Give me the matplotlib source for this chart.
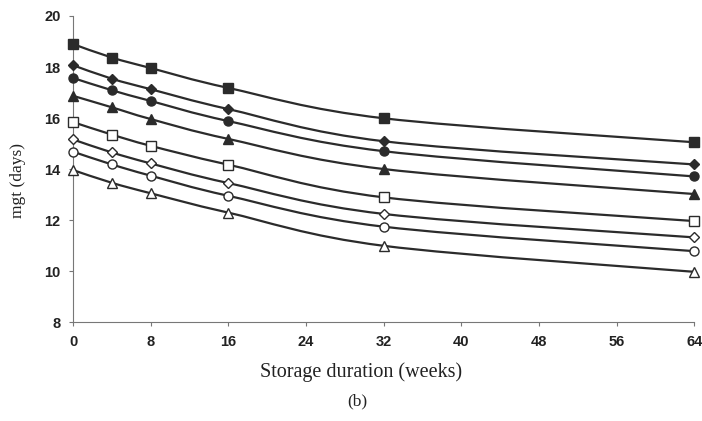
import numpy as np
import matplotlib
matplotlib.use("Agg")
import matplotlib.pyplot as plt
from matplotlib.path import Path
from matplotlib.patches import PathPatch

# storage duration (weeks) and mgt (days) for each series
weeks = [0, 4, 8, 16, 32, 64]
filled_square = [18.9, 18.37, 17.96, 17.18, 15.99, 15.05]
filled_diamond = [18.07, 17.54, 17.13, 16.35, 15.09, 14.18]
filled_circle = [17.57, 17.09, 16.67, 15.88, 14.7, 13.71]
filled_triangle = [16.87, 16.42, 15.96, 15.18, 14.0, 13.02]
open_square = [15.84, 15.35, 14.91, 14.17, 12.89, 11.96]
open_diamond = [15.16, 14.65, 14.22, 13.45, 12.24, 11.32]
open_circle = [14.68, 14.18, 13.74, 12.95, 11.74, 10.78]
open_triangle = [13.96, 13.46, 13.05, 12.29, 10.99, 9.97]

xticks = [0, 8, 16, 24, 32, 40, 48, 56, 64]
yticks = [8, 10, 12, 14, 16, 18, 20]

series = [
    (filled_square, 's', True),
    (filled_diamond, 'D', True),
    (filled_circle, 'o', True),
    (filled_triangle, '^', True),
    (open_square, 's', False),
    (open_diamond, 'D', False),
    (open_circle, 'o', False),
    (open_triangle, '^', False),
]

line_col = '#2b2b2b'
text_col = '#222222'


def smooth_path(x, y):
    # Excel-like smoothed line: cubic Bezier through every point
    p = np.column_stack([x, y]).astype(float)
    ext = np.vstack([p[0], p, p[-1]])
    verts = [p[0]]
    codes = [Path.MOVETO]
    for i in range(len(p) - 1):
        c1 = ext[i + 1] + (ext[i + 2] - ext[i]) / 6
        c2 = ext[i + 2] - (ext[i + 3] - ext[i + 1]) / 6
        verts += [c1, c2, p[i + 1]]
        codes += [Path.CURVE4] * 3
    return Path(verts, codes)


fig = plt.figure(figsize=(7.02, 4.21), dpi=100)
ax = fig.add_axes([0.104, 0.235, 0.885, 0.727])

for vals, m, filled in series:
    ax.add_patch(PathPatch(smooth_path(weeks, vals), fill=False,
                           edgecolor=line_col, lw=1.6, zorder=2))
    size = 5 if m == 'D' else 6.5
    ax.plot(weeks, vals, linestyle='none', marker=m, markersize=size,
            markerfacecolor=line_col if filled else 'white',
            markeredgecolor=line_col, markeredgewidth=1.0,
            clip_on=False, zorder=3)

ax.set_xlim(0, 64)
ax.set_ylim(8, 20)
ax.set_xticks(xticks)
ax.set_yticks(yticks)
for s in ['top', 'right']:
    ax.spines[s].set_visible(False)
for s in ['left', 'bottom']:
    ax.spines[s].set_color('#777777')
    ax.spines[s].set_linewidth(0.8)
ax.tick_params(length=3, width=0.8, color='#777777', labelsize=10.5, pad=6)
for lab in ax.get_xticklabels() + ax.get_yticklabels():
    lab.set_fontweight('bold')
    lab.set_family('Liberation Sans')
    lab.set_color(text_col)

# axis titles placed where they sit in the scanned figure
fig.text(18 / 702, 1 - 181 / 421, 'mgt (days)', family='Liberation Serif',
         fontsize=12.5, color=text_col, rotation=90, ha='center', va='center')
fig.text(361 / 702, 1 - 372 / 421, 'Storage duration (weeks)',
         family='Liberation Serif', fontsize=14.5, color=text_col,
         ha='center', va='center')
fig.text(357 / 702, 1 - 401 / 421, '(b)', family='Liberation Serif',
         fontsize=12.5, color=text_col, ha='center', va='center')

fig.savefig('out.png', dpi=100)
